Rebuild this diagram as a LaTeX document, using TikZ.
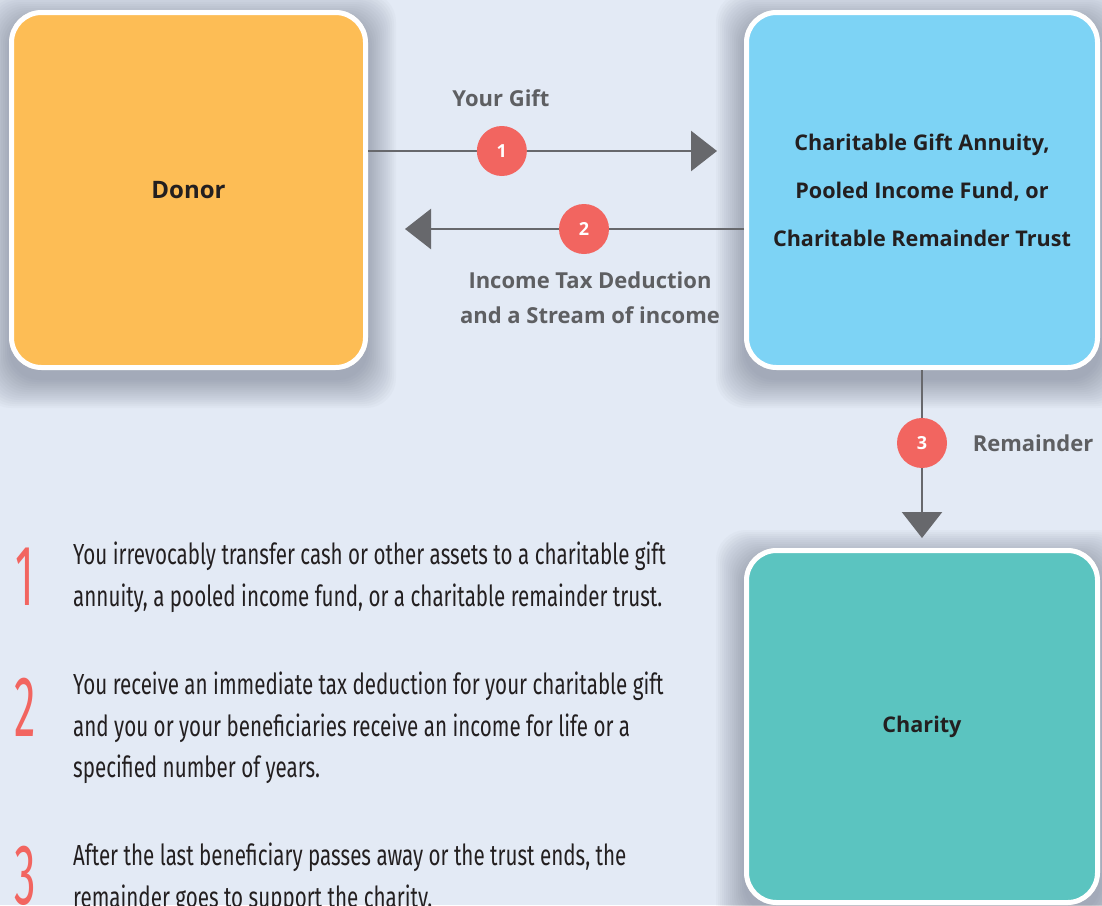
\documentclass[tikz,border=0pt]{standalone}
\usepackage{fontspec}
\setmainfont{Open Sans}
\newfontfamily\narrowfont[FakeStretch=0.71]{Fira Sans}
\newfontfamily\bignumfont[FakeStretch=0.5]{Fira Sans}
\usetikzlibrary{arrows.meta}

\definecolor{bgblue}{HTML}{E3EAF5}
\definecolor{donororange}{HTML}{FDBD55}
\definecolor{trustblue}{HTML}{7DD3F5}
\definecolor{charityteal}{HTML}{5BC4C0}
\definecolor{coral}{HTML}{F26560}
\definecolor{arrowgray}{HTML}{67686C}
\definecolor{labelgray}{HTML}{5E5F62}
\definecolor{textdark}{HTML}{231F20}
\definecolor{shadowgray}{HTML}{3A4256}

\tikzset{
  card/.style={draw=white, line width=5pt, rounded corners=30pt, inner sep=0pt,
    minimum width=351pt, minimum height=355pt, align=center, text=textdark,
    font=\fontsize{21.6}{48}\selectfont\bfseries},
  num/.style={circle, fill=coral, minimum size=50pt, inner sep=0pt, text=white,
    font=\fontsize{18}{18}\selectfont\bfseries},
  flow/.style={draw=arrowgray, line width=2.5pt, -{Triangle[length=26pt,width=40pt]}},
  lbl/.style={text=labelgray, align=center, font=\fontsize{22}{35}\selectfont\bfseries},
  bignum/.style={text=coral, inner sep=0pt, font=\fontsize{86}{86}\selectfont\bignumfont},
  steptext/.style={text=textdark, inner sep=0pt, anchor=west, align=left,
    font=\fontsize{29}{41.5}\selectfont\narrowfont},
}

% soft shadow under a box
\newcommand{\boxshadow}[1]{
  \foreach \s in {0,2,...,28}
    \fill[shadowgray, opacity=0.026, rounded corners=30pt]
      ([xshift=-\s pt, yshift={-\s pt-10pt}]#1.south west)
      rectangle ([xshift=\s pt, yshift={\s pt-10pt}]#1.north east);
}

\begin{document}
\begin{tikzpicture}[x=1pt, y=-1pt]
\fill[bgblue] (0,0) rectangle (1102,905);
\useasboundingbox (0,0) rectangle (1102,905);

% the three parties
\path (188.5,190) node[card, minimum width=354pt] (donor) {}
      (922,190) node[card] (trust) {}
      (922,726.5) node[card, minimum height=352pt] (charity) {};
\boxshadow{donor}
\boxshadow{trust}
\boxshadow{charity}
\node[card, fill=donororange, minimum width=354pt, font=\fontsize{24}{26}\selectfont\bfseries] at (donor) {Donor};
\node[card, fill=trustblue] at (trust) {Charitable Gift Annuity,\\Pooled Income Fund, or\\Charitable Remainder Trust};
\node[card, fill=charityteal, minimum height=352pt] at (charity) {Charity};

% flows
\draw[flow, shorten >=27pt] ([yshift=39pt]donor.east) -- node[num, pos=0.356] (one) {1} ([yshift=39pt]trust.west);
\draw[flow, shorten >=37pt] ([yshift=-39pt]trust.west) -- node[num, pos=0.4255] (two) {2} ([yshift=-39pt]donor.east);
\draw[flow, shorten >=10pt] (trust.south) -- node[num, pos=0.41] (three) {3} (charity.north);

\node[lbl] (gift) at (501,98) {Your Gift};
\node[lbl] (income) at (590,298) {Income Tax Deduction\\and a Stream of income};
\node[lbl] (remainder) at (1033,443) {Remainder};

% steps
\node[bignum] (stepnumA) at (25,577) {1};
\node[bignum] (stepnumB) at (25,707) {2};
\node[bignum] (stepnumC) at (25,876) {3};
\node[steptext] (stepA) at (73,577.5) {You irrevocably transfer cash or other assets to a charitable gift\\annuity, a pooled income fund, or a charitable remainder trust.};
\node[steptext] (stepB) at (73,728) {You receive an immediate tax deduction for your charitable gift\\and you or your beneficiaries receive an income for life or a\\specified number of years.};
\node[steptext] (stepC) at (73,878.5) {After the last beneficiary passes away or the trust ends, the\\remainder goes to support the charity.};
\end{tikzpicture}
\end{document}
